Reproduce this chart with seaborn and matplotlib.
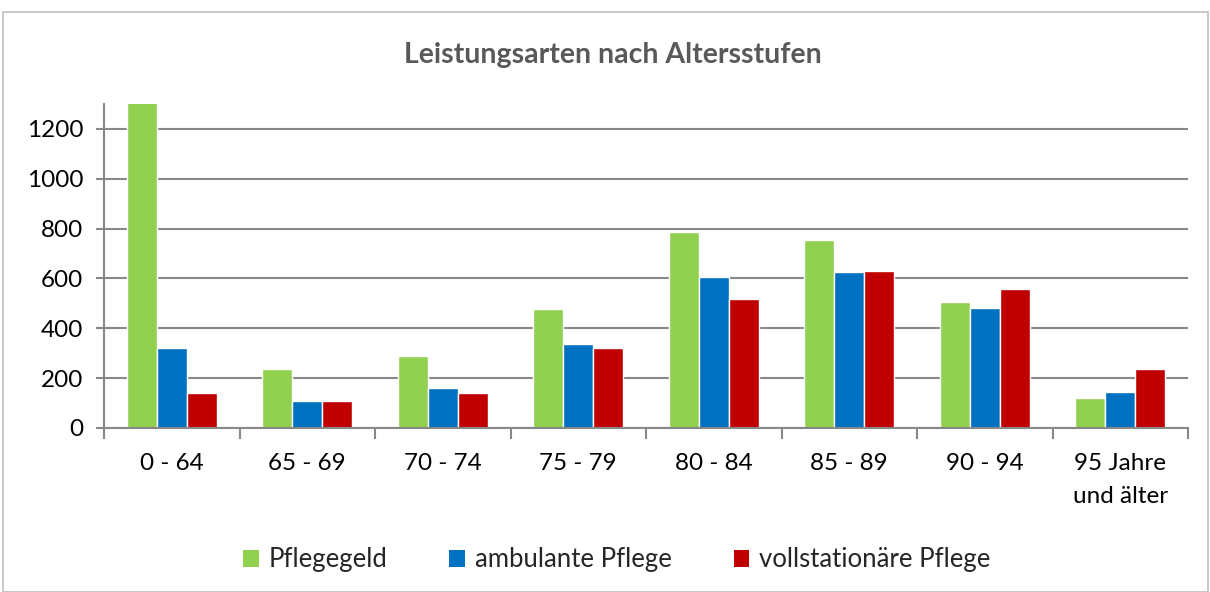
import matplotlib
matplotlib.use("Agg")
import matplotlib.pyplot as plt
import seaborn as sns
import pandas as pd
from matplotlib.patches import Rectangle, Patch

categories = ["0 - 64", "65 - 69", "70 - 74", "75 - 79", "80 - 84", "85 - 89", "90 - 94", "95 Jahre\nund älter"]
series_names = ["Pflegegeld", "ambulante Pflege", "vollstationäre Pflege"]
pflegegeld = [1350, 238, 290, 476, 785, 753, 506, 120]
ambulant = [321, 108, 161, 338, 604, 624, 483, 145]
vollstationaer = [140, 107, 141, 319, 518, 628, 556, 238]
colors = ["#92D050", "#0070C0", "#C00000"]
yticks = [0, 200, 400, 600, 800, 1000, 1200]

rows = []
for name, vals in zip(series_names, [pflegegeld, ambulant, vollstationaer]):
    for c, v in zip(categories, vals):
        rows.append({"Altersstufe": c, "Leistungsart": name, "Anzahl": v})
df = pd.DataFrame(rows)

sns.set_theme(style="white")
plt.rcParams['font.family'] = ['Lato', 'DejaVu Sans']

fig = plt.figure(figsize=(12.1, 5.92), dpi=100)
ax = fig.add_axes([104/1210, 1-428/592, (1188-104)/1210, (428-104)/592])

sns.barplot(data=df, x="Altersstufe", y="Anzahl", hue="Leistungsart",
            palette=colors, width=0.665, gap=0, saturation=1, ax=ax,
            legend=False, errorbar=None)

ax.set_ylim(0, 1300)
ax.set_xlim(-0.5, len(categories) - 0.5)
ax.set_yticks(yticks)
ax.set_yticklabels([str(t) for t in yticks], fontsize=17.5, color="#000000")
ax.set_xlabel("")
ax.set_ylabel("")
ax.set_xticks(range(len(categories)))
ax.set_xticklabels(categories, fontsize=17.5, color="#000000", linespacing=1.7)
ax.tick_params(axis="x", length=0, pad=18)
ax.tick_params(axis="y", length=6, width=1.5, color="#888888", pad=9, direction="out", left=True)
# category separator ticks
ax.set_xticks([i - 0.5 for i in range(len(categories) + 1)], minor=True)
ax.tick_params(axis="x", which="minor", length=8, width=1.5, color="#888888", direction="out", bottom=True)

ax.yaxis.grid(True, color="#888888", linewidth=1.5)
ax.set_axisbelow(True)
for s in ["top", "right"]:
    ax.spines[s].set_visible(False)
for s in ["left", "bottom"]:
    ax.spines[s].set_color("#888888")
    ax.spines[s].set_linewidth(1.5)

fig.text(613/1210, 1-55/592, "Leistungsarten nach Altersstufen", ha="center", va="center",
         fontsize=20.5, fontweight="bold", color="#595959")

handles = [Patch(facecolor=c, edgecolor="none") for c in colors]
fig.legend(handles, series_names, loc="center", bbox_to_anchor=(617/1210, 1-560/592), ncol=3,
           frameon=False, fontsize=18.5, handlelength=0.6, handleheight=0.6,
           handletextpad=0.4, columnspacing=2.4)

fig.patches.append(Rectangle((3/1210, 0), 1205/1210, 1-12/592, transform=fig.transFigure,
                             fill=False, edgecolor="#BFBFBF", linewidth=1.2))

fig.savefig("out.png", dpi=100)
